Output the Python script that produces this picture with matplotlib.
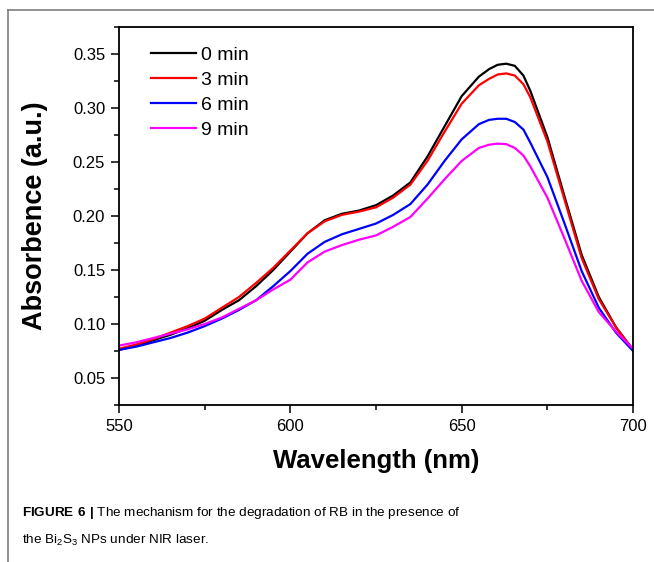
import matplotlib
matplotlib.use("Agg")
import matplotlib.pyplot as plt
from matplotlib.lines import Line2D
from matplotlib.ticker import MultipleLocator

plt.rcParams['font.family'] = ['Liberation Sans', 'DejaVu Sans']
plt.rcParams['mathtext.fontset'] = 'custom'
plt.rcParams['mathtext.rm'] = 'Liberation Sans'
plt.rcParams['mathtext.bf'] = 'Liberation Sans:bold'

wavelength = [550, 555, 560, 565, 570, 575, 580, 585, 590, 595,
              600, 605, 610, 615, 620, 625, 630, 635, 640, 645,
              650, 655, 658, 660.5, 663, 665.5, 668, 670, 675, 680, 685, 690, 695, 700]

abs_0min = [0.076, 0.080, 0.085, 0.090, 0.096, 0.103, 0.113, 0.122, 0.135, 0.150,
            0.167, 0.184, 0.196, 0.202, 0.205, 0.210, 0.219, 0.231, 0.255, 0.283,
            0.311, 0.329, 0.336, 0.340, 0.341, 0.339, 0.330, 0.316, 0.273, 0.218, 0.164, 0.125, 0.097, 0.076]
abs_3min = [0.077, 0.081, 0.086, 0.092, 0.098, 0.105, 0.115, 0.125, 0.138, 0.152,
            0.168, 0.184, 0.195, 0.201, 0.204, 0.208, 0.217, 0.229, 0.251, 0.278,
            0.304, 0.321, 0.327, 0.331, 0.332, 0.330, 0.322, 0.310, 0.269, 0.215, 0.161, 0.123, 0.097, 0.076]
abs_6min = [0.076, 0.079, 0.083, 0.087, 0.092, 0.098, 0.105, 0.113, 0.122, 0.135,
            0.149, 0.165, 0.176, 0.183, 0.188, 0.193, 0.201, 0.211, 0.229, 0.251,
            0.271, 0.285, 0.289, 0.290, 0.290, 0.287, 0.280, 0.268, 0.236, 0.193, 0.149, 0.115, 0.092, 0.075]
abs_9min = [0.080, 0.083, 0.087, 0.091, 0.095, 0.100, 0.106, 0.114, 0.122, 0.132,
            0.141, 0.157, 0.167, 0.173, 0.178, 0.182, 0.190, 0.199, 0.216, 0.234,
            0.251, 0.263, 0.266, 0.267, 0.2665, 0.263, 0.256, 0.246, 0.217, 0.179, 0.140, 0.111, 0.093, 0.077]

labels = ["0 min", "3 min", "6 min", "9 min"]
colors = ["black", "red", "blue", "magenta"]

fig = plt.figure(figsize=(6.54, 5.62), dpi=100)
ax = fig.add_axes([0.182, 0.2794, 0.786, 0.6726])

for y, lab, c in zip([abs_0min, abs_3min, abs_6min, abs_9min], labels, colors):
    ax.plot(wavelength, y, color=c, lw=1.6, label=lab)

ax.set_xlim(550, 700)
ax.set_ylim(0.025, 0.375)
ax.xaxis.set_major_locator(MultipleLocator(50))
ax.xaxis.set_minor_locator(MultipleLocator(25))
ax.yaxis.set_major_locator(MultipleLocator(0.05))
ax.yaxis.set_minor_locator(MultipleLocator(0.025))
ax.yaxis.set_major_formatter(matplotlib.ticker.FormatStrFormatter('%.2f'))
ax.tick_params(which='major', direction='out', length=6, width=1.1, labelsize=12, pad=4)
ax.tick_params(which='minor', direction='out', length=3.5, width=1.1)
for s in ax.spines.values():
    s.set_linewidth(1.3)

xl = ax.set_xlabel("Wavelength (nm)", fontsize=18.5, fontweight='bold')
yl = ax.set_ylabel("Absorbence (a.u.)", fontsize=19.5, fontweight='bold')
xl.set_va('center')
yl.set_va('center')
ax.xaxis.set_label_coords(0.5, -0.148)
ax.yaxis.set_label_coords(-0.163, 0.5)

ax.legend(loc='upper left', bbox_to_anchor=(0.062, 0.948), frameon=False,
          fontsize=14, handlelength=2.3, handletextpad=0.3, labelspacing=0.37,
          borderpad=0, borderaxespad=0)

# caption box border lines
fig.add_artist(Line2D([8 / 654, 8 / 654], [0, 1 - 10 / 562], color='#7f7f7f', lw=1.2,
                      transform=fig.transFigure))
fig.add_artist(Line2D([8 / 654, 1], [1 - 10 / 562, 1 - 10 / 562], color='#7f7f7f', lw=1.2,
                      transform=fig.transFigure))

fig.text(22 / 654, 1 - 513 / 562,
         r"$\mathbf{FIGURE\ 6\ |}$ The mechanism for the degradation of RB in the presence of",
         fontsize=9.7, va='center', ha='left')
fig.text(22 / 654, 1 - 540 / 562,
         r"the Bi$_2$S$_3$ NPs under NIR laser.",
         fontsize=9.7, va='center', ha='left')

fig.savefig("out.png", dpi=100)
